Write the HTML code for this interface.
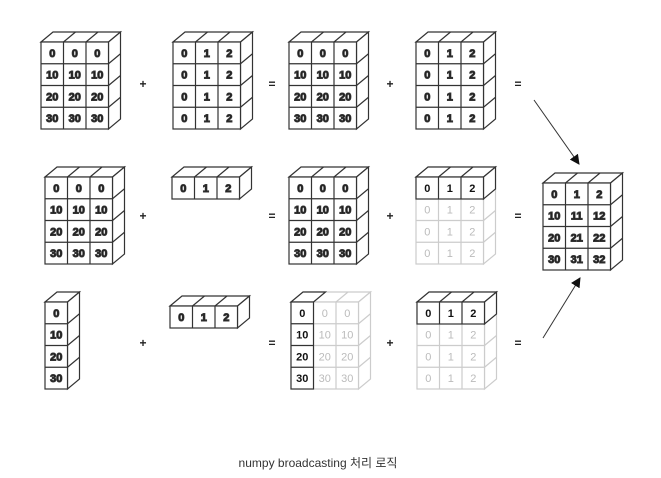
<!DOCTYPE html>
<html><head><meta charset="utf-8"><style>
html,body{margin:0;padding:0;background:#fff;}
svg{display:block;}
.t{font-family:"Liberation Sans",Arial,sans-serif;font-weight:bold;font-size:11px;text-anchor:middle;fill:#111;}
.g{font-family:"Liberation Sans",Arial,sans-serif;font-size:11px;text-anchor:middle;fill:#bbb;}
.op{font-family:"Liberation Sans",Arial,sans-serif;font-weight:bold;font-size:12px;text-anchor:middle;fill:#222;}
</style></head><body>
<svg width="661" height="478" viewBox="0 0 661 478" xmlns="http://www.w3.org/2000/svg">
<defs>
<g id="B34" fill="#fff" stroke-width="1.2">
<polygon points="0,0 12,-10 79.5,-10 67.5,0"/>
<polygon points="67.5,0 79.5,-10 79.5,77 67.5,87"/>
<rect x="0" y="0" width="67.5" height="87"/>
<path d="M22.5,0V87M45,0V87M0,21.75H67.5M0,43.5H67.5M0,65.25H67.5M22.5,0L34.5,-10M45,0L57,-10M67.5,21.75L79.5,11.75M67.5,43.5L79.5,33.5M67.5,65.25L79.5,55.25" fill="none"/>
</g>
<g id="B13" fill="#fff" stroke-width="1.2">
<polygon points="0,0 12,-10 79.5,-10 67.5,0"/>
<polygon points="67.5,0 79.5,-10 79.5,12 67.5,22"/>
<rect x="0" y="0" width="67.5" height="22"/>
<path d="M22.5,0V22M45,0V22M22.5,0L34.5,-10M45,0L57,-10" fill="none"/>
</g>
<g id="B41" fill="#fff" stroke-width="1.2">
<polygon points="0,0 12,-10 34.5,-10 22.5,0"/>
<polygon points="22.5,0 34.5,-10 34.5,77 22.5,87"/>
<rect x="0" y="0" width="22.5" height="87"/>
<path d="M0,21.75H22.5M0,43.5H22.5M0,65.25H22.5M22.5,21.75L34.5,11.75M22.5,43.5L34.5,33.5M22.5,65.25L34.5,55.25" fill="none"/>
</g>
<g id="B41t" fill="#fff" stroke-width="1.2">
<polygon points="0,0 12,-10 34.5,-10 22.5,0"/>
<rect x="0" y="0" width="22.5" height="87"/>
<path d="M0,21.75H22.5M0,43.5H22.5M0,65.25H22.5" fill="none"/>
</g>
<marker id="ah" markerWidth="10" markerHeight="10" refX="9" refY="5" orient="auto" markerUnits="userSpaceOnUse"><path d="M0,0L10,5L0,10z" fill="#111"/></marker>
</defs>

<!-- Row 1 -->
<g transform="translate(41,42)" stroke="#333"><use href="#B34"/>
<text class="t" x="11.25" y="15">0</text><text class="t" x="33.75" y="15">0</text><text class="t" x="56.25" y="15">0</text>
<text class="t" x="11.25" y="36.7">10</text><text class="t" x="33.75" y="36.7">10</text><text class="t" x="56.25" y="36.7">10</text>
<text class="t" x="11.25" y="58.5">20</text><text class="t" x="33.75" y="58.5">20</text><text class="t" x="56.25" y="58.5">20</text>
<text class="t" x="11.25" y="80.2">30</text><text class="t" x="33.75" y="80.2">30</text><text class="t" x="56.25" y="80.2">30</text></g>
<g transform="translate(173,42)" stroke="#333"><use href="#B34"/>
<text class="t" x="11.25" y="15">0</text><text class="t" x="33.75" y="15">1</text><text class="t" x="56.25" y="15">2</text>
<text class="t" x="11.25" y="36.7">0</text><text class="t" x="33.75" y="36.7">1</text><text class="t" x="56.25" y="36.7">2</text>
<text class="t" x="11.25" y="58.5">0</text><text class="t" x="33.75" y="58.5">1</text><text class="t" x="56.25" y="58.5">2</text>
<text class="t" x="11.25" y="80.2">0</text><text class="t" x="33.75" y="80.2">1</text><text class="t" x="56.25" y="80.2">2</text></g>
<g transform="translate(289,42)" stroke="#333"><use href="#B34"/>
<text class="t" x="11.25" y="15">0</text><text class="t" x="33.75" y="15">0</text><text class="t" x="56.25" y="15">0</text>
<text class="t" x="11.25" y="36.7">10</text><text class="t" x="33.75" y="36.7">10</text><text class="t" x="56.25" y="36.7">10</text>
<text class="t" x="11.25" y="58.5">20</text><text class="t" x="33.75" y="58.5">20</text><text class="t" x="56.25" y="58.5">20</text>
<text class="t" x="11.25" y="80.2">30</text><text class="t" x="33.75" y="80.2">30</text><text class="t" x="56.25" y="80.2">30</text></g>
<g transform="translate(416,42)" stroke="#333"><use href="#B34"/>
<text class="t" x="11.25" y="15">0</text><text class="t" x="33.75" y="15">1</text><text class="t" x="56.25" y="15">2</text>
<text class="t" x="11.25" y="36.7">0</text><text class="t" x="33.75" y="36.7">1</text><text class="t" x="56.25" y="36.7">2</text>
<text class="t" x="11.25" y="58.5">0</text><text class="t" x="33.75" y="58.5">1</text><text class="t" x="56.25" y="58.5">2</text>
<text class="t" x="11.25" y="80.2">0</text><text class="t" x="33.75" y="80.2">1</text><text class="t" x="56.25" y="80.2">2</text></g>
<text class="op" x="143" y="88">+</text><text class="op" x="272" y="88">=</text><text class="op" x="390" y="88">+</text><text class="op" x="518" y="88">=</text>

<!-- Row 2 -->
<g transform="translate(45,177)" stroke="#333"><use href="#B34"/>
<text class="t" x="11.25" y="15">0</text><text class="t" x="33.75" y="15">0</text><text class="t" x="56.25" y="15">0</text>
<text class="t" x="11.25" y="36.7">10</text><text class="t" x="33.75" y="36.7">10</text><text class="t" x="56.25" y="36.7">10</text>
<text class="t" x="11.25" y="58.5">20</text><text class="t" x="33.75" y="58.5">20</text><text class="t" x="56.25" y="58.5">20</text>
<text class="t" x="11.25" y="80.2">30</text><text class="t" x="33.75" y="80.2">30</text><text class="t" x="56.25" y="80.2">30</text></g>
<g transform="translate(172,177)" stroke="#333"><use href="#B13"/>
<text class="t" x="11.25" y="15">0</text><text class="t" x="33.75" y="15">1</text><text class="t" x="56.25" y="15">2</text></g>
<g transform="translate(289,177)" stroke="#333"><use href="#B34"/>
<text class="t" x="11.25" y="15">0</text><text class="t" x="33.75" y="15">0</text><text class="t" x="56.25" y="15">0</text>
<text class="t" x="11.25" y="36.7">10</text><text class="t" x="33.75" y="36.7">10</text><text class="t" x="56.25" y="36.7">10</text>
<text class="t" x="11.25" y="58.5">20</text><text class="t" x="33.75" y="58.5">20</text><text class="t" x="56.25" y="58.5">20</text>
<text class="t" x="11.25" y="80.2">30</text><text class="t" x="33.75" y="80.2">30</text><text class="t" x="56.25" y="80.2">30</text></g>
<g transform="translate(416,177)"><use href="#B34" stroke="#ccc"/><use href="#B13" stroke="#333"/>
<text class="t" x="11.25" y="15">0</text><text class="t" x="33.75" y="15">1</text><text class="t" x="56.25" y="15">2</text>
<text class="g" x="11.25" y="36.7">0</text><text class="g" x="33.75" y="36.7">1</text><text class="g" x="56.25" y="36.7">2</text>
<text class="g" x="11.25" y="58.5">0</text><text class="g" x="33.75" y="58.5">1</text><text class="g" x="56.25" y="58.5">2</text>
<text class="g" x="11.25" y="80.2">0</text><text class="g" x="33.75" y="80.2">1</text><text class="g" x="56.25" y="80.2">2</text></g>
<text class="op" x="143" y="220">+</text><text class="op" x="272" y="220">=</text><text class="op" x="390" y="220">+</text><text class="op" x="518" y="220">=</text>

<!-- Row 3 -->
<g transform="translate(45,302)" stroke="#333"><use href="#B41"/>
<text class="t" x="11.25" y="15">0</text><text class="t" x="11.25" y="36.7">10</text><text class="t" x="11.25" y="58.5">20</text><text class="t" x="11.25" y="80.2">30</text></g>
<g transform="translate(170,306)" stroke="#333"><use href="#B13"/>
<text class="t" x="11.25" y="15">0</text><text class="t" x="33.75" y="15">1</text><text class="t" x="56.25" y="15">2</text></g>
<g transform="translate(291,302)"><use href="#B34" stroke="#ccc"/><use href="#B41t" stroke="#333"/>
<text class="t" x="11.25" y="15">0</text><text class="g" x="33.75" y="15">0</text><text class="g" x="56.25" y="15">0</text>
<text class="t" x="11.25" y="36.7">10</text><text class="g" x="33.75" y="36.7">10</text><text class="g" x="56.25" y="36.7">10</text>
<text class="t" x="11.25" y="58.5">20</text><text class="g" x="33.75" y="58.5">20</text><text class="g" x="56.25" y="58.5">20</text>
<text class="t" x="11.25" y="80.2">30</text><text class="g" x="33.75" y="80.2">30</text><text class="g" x="56.25" y="80.2">30</text></g>
<g transform="translate(417,302)"><use href="#B34" stroke="#ccc"/><use href="#B13" stroke="#333"/>
<text class="t" x="11.25" y="15">0</text><text class="t" x="33.75" y="15">1</text><text class="t" x="56.25" y="15">2</text>
<text class="g" x="11.25" y="36.7">0</text><text class="g" x="33.75" y="36.7">1</text><text class="g" x="56.25" y="36.7">2</text>
<text class="g" x="11.25" y="58.5">0</text><text class="g" x="33.75" y="58.5">1</text><text class="g" x="56.25" y="58.5">2</text>
<text class="g" x="11.25" y="80.2">0</text><text class="g" x="33.75" y="80.2">1</text><text class="g" x="56.25" y="80.2">2</text></g>
<text class="op" x="143" y="347">+</text><text class="op" x="272" y="347">=</text><text class="op" x="390" y="347">+</text><text class="op" x="518" y="347">=</text>

<!-- Result -->
<g transform="translate(543,183)" stroke="#333"><use href="#B34"/>
<text class="t" x="11.25" y="15">0</text><text class="t" x="33.75" y="15">1</text><text class="t" x="56.25" y="15">2</text>
<text class="t" x="11.25" y="36.7">10</text><text class="t" x="33.75" y="36.7">11</text><text class="t" x="56.25" y="36.7">12</text>
<text class="t" x="11.25" y="58.5">20</text><text class="t" x="33.75" y="58.5">21</text><text class="t" x="56.25" y="58.5">22</text>
<text class="t" x="11.25" y="80.2">30</text><text class="t" x="33.75" y="80.2">31</text><text class="t" x="56.25" y="80.2">32</text></g>

<line x1="534" y1="100" x2="579" y2="164" stroke="#333" stroke-width="1" marker-end="url(#ah)"/>
<line x1="543" y1="338" x2="580" y2="278" stroke="#333" stroke-width="1" marker-end="url(#ah)"/>

<text x="318" y="467" text-anchor="middle" font-family="'Liberation Sans','Noto Sans CJK KR',sans-serif" font-size="12" fill="#333">numpy broadcasting 처리 로직</text>
</svg>
</body></html>
